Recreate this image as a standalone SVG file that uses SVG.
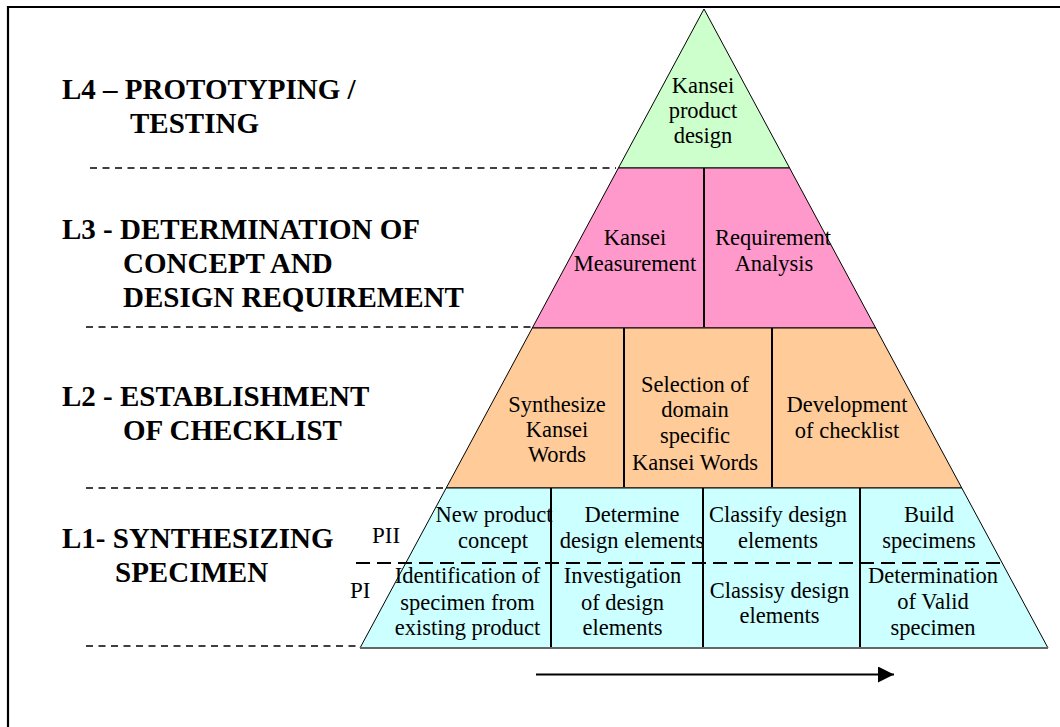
<svg xmlns="http://www.w3.org/2000/svg" width="1060" height="727" viewBox="0 0 1060 727">
<defs>
<style>
.lbl{font-family:"Liberation Serif","Times New Roman",serif;font-weight:bold;font-size:29px;fill:#000}
.t{font-family:"Liberation Serif","Times New Roman",serif;font-size:22.5px;fill:#000;text-anchor:middle}
.p{font-family:"Liberation Serif","Times New Roman",serif;font-size:23px;fill:#000}
.band{stroke:#000;stroke-width:1}
.div{stroke:#000;stroke-width:2}
.sep{stroke:#000;stroke-width:1.5}
.guide{stroke:#000;stroke-width:1.5;stroke-dasharray:7 5.5;fill:none}
</style>
<marker id="ah" markerWidth="16" markerHeight="16" refX="16" refY="8" orient="auto" markerUnits="userSpaceOnUse">
<path d="M0,0 L16,8 L0,16 z" fill="#000"/>
</marker>
</defs>
<rect width="1060" height="727" fill="#fff"/>
<path d="M8,727 V7 H1060" fill="none" stroke="#000" stroke-width="2.2"/>

<g id="level-labels">
<text class="lbl" x="62" y="99">L4 – PROTOTYPING /</text>
<text class="lbl" x="130" y="133">TESTING</text>
<text class="lbl" x="62" y="239">L3 - DETERMINATION OF</text>
<text class="lbl" x="123" y="273">CONCEPT AND</text>
<text class="lbl" x="123" y="307">DESIGN REQUIREMENT</text>
<text class="lbl" x="62" y="406">L2 - ESTABLISHMENT</text>
<text class="lbl" x="123" y="440">OF CHECKLIST</text>
<text class="lbl" x="62" y="548">L1- SYNTHESIZING</text>
<text class="lbl" x="115" y="582">SPECIMEN</text>
</g>

<g id="guides">
<line class="guide" x1="90" y1="168" x2="616" y2="168"/>
<line class="guide" x1="86" y1="327" x2="531" y2="327"/>
<line class="guide" x1="86" y1="488" x2="445" y2="488"/>
<line class="guide" x1="86" y1="646" x2="359" y2="646"/>
</g>

<g id="L4">
<polygon class="band" points="704,9 789.6,168 618.4,168" fill="#CCFFCC"/>
<text class="t" x="703" y="93">Kansei</text>
<text class="t" x="703" y="118">product</text>
<text class="t" x="703" y="143">design</text>
</g>

<g id="L3">
<polygon class="band" points="618.4,168 789.6,168 875.7,328 532.3,328" fill="#FF99CC"/>
<line class="div" x1="704" y1="168" x2="704" y2="327"/>
<text class="t" x="635" y="245">Kansei</text>
<text class="t" x="635" y="271">Measurement</text>
<text class="t" x="773" y="245">Requirement</text>
<text class="t" x="774" y="271">Analysis</text>
</g>

<g id="L2">
<polygon class="band" points="532.3,328 875.7,328 961.8,488 446.2,488" fill="#FFCC99"/>
<line class="div" x1="624" y1="328" x2="624" y2="487"/>
<line class="div" x1="772" y1="328" x2="772" y2="487"/>
<text class="t" x="557" y="412">Synthesize</text>
<text class="t" x="557" y="437">Kansei</text>
<text class="t" x="557" y="462">Words</text>
<text class="t" x="695" y="392">Selection of</text>
<text class="t" x="695" y="417">domain</text>
<text class="t" x="695" y="443">specific</text>
<text class="t" x="695" y="470">Kansei Words</text>
<text class="t" x="847" y="412">Development</text>
<text class="t" x="847" y="438">of checklist</text>
</g>

<g id="L1">
<polygon class="band" points="446.2,488 961.8,488 1048,648 360,648" fill="#CCFFFF"/>
<line x1="360" y1="648" x2="1048" y2="648" stroke="#666" stroke-width="2"/>
<line class="div" x1="551" y1="488" x2="551" y2="647"/>
<line class="div" x1="703" y1="488" x2="703" y2="647"/>
<line class="div" x1="860" y1="488" x2="860" y2="647"/>
<line x1="356" y1="563" x2="1002" y2="563" stroke="#000" stroke-width="2" stroke-dasharray="14 7"/>
<text class="t" x="494" y="522">New product</text>
<text class="t" x="493" y="548">concept</text>
<text class="t" x="632" y="522">Determine</text>
<text class="t" x="632" y="548">design elements</text>
<text class="t" x="778" y="522">Classify design</text>
<text class="t" x="778" y="548">elements</text>
<text class="t" x="929" y="522">Build</text>
<text class="t" x="929" y="548">specimens</text>
<text class="t" x="467.5" y="583">Identification of</text>
<text class="t" x="467.5" y="610">specimen from</text>
<text class="t" x="467.5" y="635">existing product</text>
<text class="t" x="622.5" y="583">Investigation</text>
<text class="t" x="622.5" y="610">of design</text>
<text class="t" x="622.5" y="635">elements</text>
<text class="t" x="779.5" y="598">Classisy design</text>
<text class="t" x="779.5" y="623">elements</text>
<text class="t" x="933" y="583">Determination</text>
<text class="t" x="933" y="609">of Valid</text>
<text class="t" x="933" y="635">specimen</text>
</g>

<g id="phase-labels">
<text class="p" x="372" y="543">PII</text>
<text class="p" x="350" y="598">PI</text>
</g>

<g id="connectors">
<line x1="536" y1="674.5" x2="894" y2="674.5" stroke="#000" stroke-width="2" marker-end="url(#ah)"/>
</g>
</svg>
